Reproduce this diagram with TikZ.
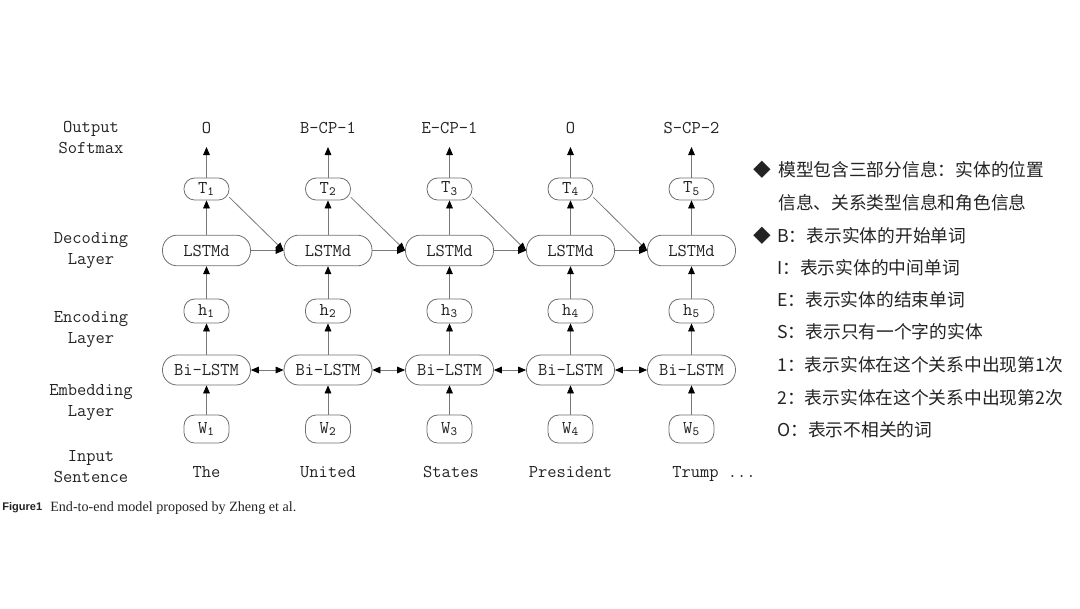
\documentclass[tikz,border=0pt]{standalone}
\usepackage{fontspec}
\newfontfamily\cjk{Noto Sans CJK SC}
\newfontfamily\capsans{Liberation Sans}
\newfontfamily\capserif{Liberation Serif}
\usetikzlibrary{arrows.meta}
\definecolor{boxgray}{RGB}{110,110,110}
\definecolor{linegray}{RGB}{120,120,120}
\definecolor{txt}{RGB}{35,35,35}
\begin{document}
\begin{tikzpicture}[x=0.75pt,y=-0.75pt,
  lab/.style={font=\ttfamily\fontsize{13.5}{15.75}\selectfont, text=txt, inner sep=0pt, align=center},
  box/.style={draw=boxgray, line width=0.6pt, inner sep=0pt, font=\ttfamily\fontsize{13.5}{15}\selectfont, text=txt},
  smallbox/.style={box, minimum width=33.75pt, rounded corners=8pt},
  widebox/.style={box, minimum width=66pt, minimum height=23pt, rounded corners=11pt},
  arr/.style={draw=linegray, line width=0.6pt, -{Triangle[length=6pt,width=5pt,color=black]}},
  darr/.style={draw=linegray, line width=0.6pt, {Triangle[length=6pt,width=5pt,color=black]}-{Triangle[length=6pt,width=5pt,color=black]}},
  cn/.style={font=\cjk\fontsize{13.3}{15}\selectfont, text=txt, inner sep=0pt, anchor=west}
]
\useasboundingbox (0,0) rectangle (1080,608);

% left labels
\node[lab] (l1) at (91,137) {Output\\Softmax};
\node[lab] (l2) at (91,251) {Decoding\\Layer};
\node[lab] (l3) at (91,330) {Encoding\\Layer};
\node[lab] (l4) at (91,403) {Embedding\\Layer};
\node[lab] (l5) at (91,467) {Input\\Sentence};

% columns
\foreach \i/\x/\out in {1/206.5/O, 2/328/B-CP-1, 3/449.5/E-CP-1, 4/570.5/O, 5/691.5/S-CP-2}{
  \node[lab, anchor=base] (o\i) at (\x,133) {\out};
  \coordinate (tip\i) at (\x,147);
  \node[smallbox, minimum height=16.5pt] (T\i) at (\x,189) {T\textsubscript{\i}};
  \node[widebox] (L\i) at (\x,250.5) {LSTMd};
  \node[smallbox, minimum height=18pt] (h\i) at (\x,311) {h\textsubscript{\i}};
  \node[widebox, minimum height=22.5pt] (B\i) at (\x,370) {Bi-LSTM};
  \node[smallbox, minimum height=21pt] (W\i) at (\x,429) {W\textsubscript{\i}};
  \draw[arr] (T\i) -- (tip\i);
  \draw[arr] (L\i) -- (T\i);
  \draw[arr] (h\i) -- (L\i);
  \draw[arr] (B\i) -- (h\i);
  \draw[arr] (W\i) -- (B\i);
}
\foreach \i/\j in {1/2, 2/3, 3/4, 4/5}{
  \draw[arr] (L\i.east) -- (L\j.west);
  \draw[arr] (T\i.-20) -- (L\j.west);
  \draw[darr] (B\i.east) -- (B\j.west);
}

% input words
\node[lab, anchor=base] (w1) at (206.5,477) {The};
\node[lab, anchor=base] (w2) at (328,477) {United};
\node[lab, anchor=base] (w3) at (451,477) {States};
\node[lab, anchor=base] (w4) at (570.5,477) {President};
\node[lab, anchor=base west] (w5) at (672,477) {Trump ...};

% caption
\node[anchor=west, inner sep=0pt, font=\capsans\bfseries\fontsize{8.3}{9}\selectfont, text=txt] (figl) at (2,508) {Figure1};
\node[anchor=west, inner sep=0pt, font=\capserif\fontsize{10.6}{11}\selectfont, text=txt] (figc) at (50,508) {End-to-end model proposed by Zheng et al.};

% right legend
\node[cn, anchor=center] (d1) at (762,170) {◆};
\node[cn, anchor=center] (d2) at (762,236) {◆};
\node[cn] (t1) at (778,170) {模型包含三部分信息：实体的位置};
\node[cn] (t2) at (778,203) {信息、关系类型信息和角色信息};
\node[cn] (t3) at (777,236) {B：表示实体的开始单词};
\node[cn] (t4) at (777,268) {I：表示实体的中间单词};
\node[cn] (t5) at (777,300) {E：表示实体的结束单词};
\node[cn] (t6) at (777,332) {S：表示只有一个字的实体};
\node[cn] (t7) at (777,365) {1：表示实体在这个关系中出现第1次};
\node[cn] (t8) at (777,398) {2：表示实体在这个关系中出现第2次};
\node[cn] (t9) at (777,430) {O：表示不相关的词};
\end{tikzpicture}
\end{document}
